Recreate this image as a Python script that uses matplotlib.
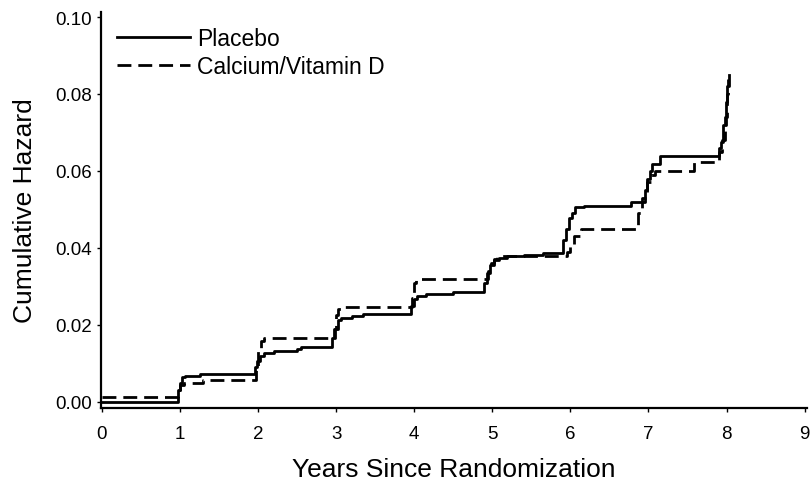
import matplotlib
matplotlib.use("Agg")
import matplotlib.pyplot as plt

plt.rcParams['font.family'] = ['Liberation Sans', 'DejaVu Sans']

# step data (years, cumulative hazard)
t_placebo = [0, 0.97, 1.0, 1.03, 1.06, 1.26, 1.96, 1.99, 2.03, 2.08, 2.2, 2.5, 2.55,
             2.95, 2.98, 3.02, 3.06, 3.2, 3.35, 3.96, 4.0, 4.03, 4.15, 4.5, 4.89,
             4.93, 4.97, 5.02, 5.08, 5.19, 5.4, 5.65, 5.91, 5.94, 5.98, 6.02, 6.06,
             6.17, 6.77, 6.95, 6.98, 7.02, 7.05, 7.15, 7.9, 7.93, 7.96, 7.99, 8.01, 8.03]
h_placebo = [0, 0.003, 0.005, 0.0065, 0.0068, 0.0073, 0.009, 0.0105, 0.012, 0.0127,
             0.0132, 0.0137, 0.0142, 0.0165, 0.019, 0.0212, 0.0218, 0.0223, 0.0228,
             0.025, 0.0268, 0.0275, 0.028, 0.0286, 0.031, 0.0335, 0.0355, 0.0368,
             0.0375, 0.0378, 0.0382, 0.0388, 0.042, 0.045, 0.0478, 0.049, 0.0505,
             0.051, 0.052, 0.055, 0.058, 0.06, 0.0618, 0.064, 0.066, 0.0675, 0.072,
             0.078, 0.082, 0.085]

t_cad = [0, 0.97, 1.0, 1.05, 1.3, 1.97, 2.0, 2.04, 2.08, 2.97, 3.0, 3.03, 3.06, 3.97,
         4.0, 4.02, 4.95, 4.98, 5.02, 5.06, 5.96, 6.0, 6.05, 6.13, 6.86, 6.92, 6.98,
         7.03, 7.09, 7.58, 7.9, 7.94, 7.98, 8.0, 8.02]
h_cad = [0.0013, 0.003, 0.0045, 0.005, 0.0058, 0.009, 0.0135, 0.0158, 0.0165, 0.019,
         0.0225, 0.0242, 0.0247, 0.027, 0.031, 0.032, 0.034, 0.036, 0.0372, 0.0378,
         0.039, 0.041, 0.043, 0.045, 0.049, 0.053, 0.057, 0.059, 0.060, 0.0623,
         0.065, 0.068, 0.074, 0.08, 0.084]

x_ticks = list(range(0, 10))
y_ticks = [0.00, 0.02, 0.04, 0.06, 0.08, 0.10]

fig = plt.figure(figsize=(8.11, 4.89), dpi=100)
ax = fig.add_axes([101 / 811, (489 - 409) / 489, 706 / 811, 396 / 489])

ax.plot(t_placebo, h_placebo, color='black', lw=2, drawstyle='steps-post', label='Placebo')
ax.plot(t_cad, h_cad, color='black', lw=2, drawstyle='steps-post',
        dashes=(5, 2.5), label='Calcium/Vitamin D')

ax.set_xlim(-0.01, 9.03)
ax.set_ylim(-0.0016, 0.1013)
ax.set_xticks(x_ticks)
ax.set_yticks(y_ticks)
ax.set_yticklabels(['%.2f' % v for v in y_ticks])
ax.tick_params(labelsize=13.5, length=3, width=1, direction='out', colors='black')
ax.tick_params(axis='x', pad=9)

for s in ['top', 'right']:
    ax.spines[s].set_visible(False)
for s in ['left', 'bottom']:
    ax.spines[s].set_linewidth(1.6)

ax.set_xlabel('Years Since Randomization', fontsize=19, labelpad=11)
ax.set_ylabel('Cumulative Hazard', fontsize=19, labelpad=13)

ax.legend(loc='upper left', frameon=False, fontsize=16.5, handlelength=3.2,
          handletextpad=0.3, borderaxespad=0.0, borderpad=0.0, labelspacing=0.2,
          bbox_to_anchor=(16 / 706, 0.962))

fig.savefig('out.png', dpi=100)
